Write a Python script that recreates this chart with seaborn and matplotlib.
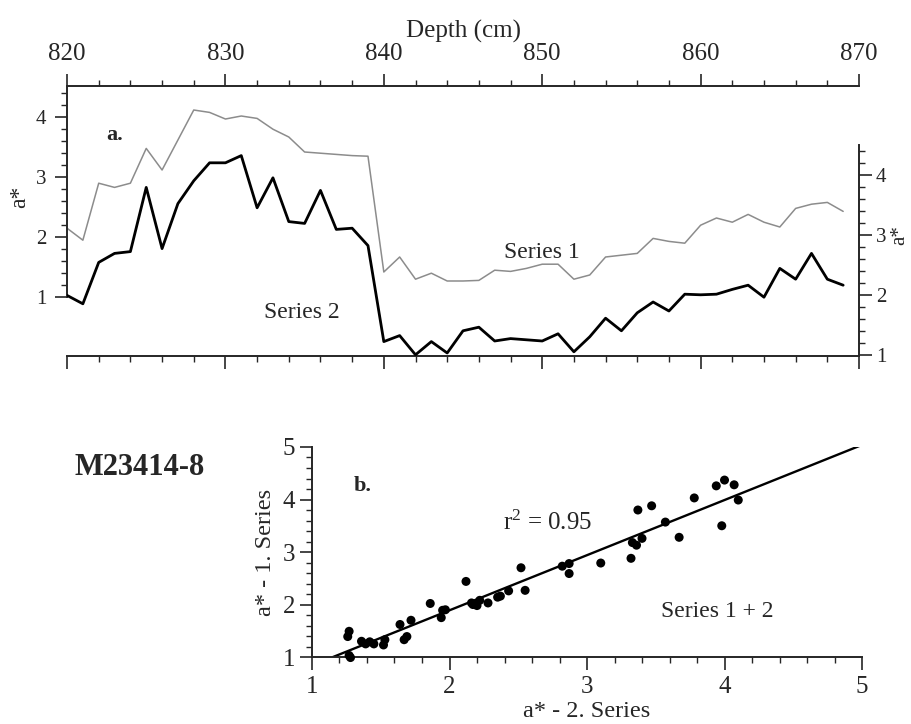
import matplotlib
matplotlib.use("Agg")
import matplotlib.pyplot as plt
import numpy as np
import pandas as pd
import seaborn as sns
from matplotlib.ticker import MultipleLocator

# Depth profile (cm) of a* for both series
depth = list(range(820, 870))
series1 = [2.15, 1.95, 2.90, 2.83, 2.90, 3.48, 3.12, 3.62, 4.12, 4.08,
           3.97, 4.02, 3.98, 3.80, 3.67, 3.42, 3.40, 3.38, 3.36, 3.35,
           1.42, 1.67, 1.30, 1.40, 1.27, 1.27, 1.28, 1.45, 1.43, 1.48,
           1.55, 1.55, 1.30, 1.37, 1.67, 1.70, 1.73, 1.98, 1.93, 1.90,
           2.20, 2.32, 2.25, 2.38, 2.25, 2.17, 2.48, 2.55, 2.58, 2.43]
series2 = [1.99, 1.85, 2.54, 2.69, 2.72, 3.79, 2.77, 3.52, 3.90, 4.20,
           4.20, 4.32, 3.45, 3.95, 3.22, 3.19, 3.74, 3.09, 3.11, 2.82,
           1.22, 1.32, 1.00, 1.22, 1.03, 1.40, 1.46, 1.23, 1.27, 1.25,
           1.23, 1.35, 1.05, 1.30, 1.61, 1.40, 1.70, 1.88, 1.73, 2.01,
           2.00, 2.01, 2.09, 2.16, 1.96, 2.44, 2.26, 2.69, 2.26, 2.16]

# cross-plot of the two series
scatter_x = [1.26, 1.27, 1.27, 1.28, 1.36, 1.39, 1.42, 1.45, 1.52, 1.53,
             1.64, 1.67, 1.69, 1.72, 1.86, 1.94, 1.95, 1.97, 2.12, 2.16,
             2.17, 2.20, 2.22, 2.28, 2.35, 2.37, 2.43, 2.52, 2.55, 2.82,
             2.87, 2.87, 3.10, 3.32, 3.33, 3.36, 3.40, 3.37, 3.47, 3.57,
             3.67, 3.78, 3.94, 4.00, 4.07, 4.10, 3.98]
scatter_y = [1.39, 1.49, 1.03, 0.99, 1.30, 1.25, 1.29, 1.25, 1.23, 1.33,
             1.62, 1.33, 1.39, 1.70, 2.02, 1.75, 1.89, 1.90, 2.44, 2.03,
             2.00, 1.98, 2.08, 2.03, 2.14, 2.16, 2.26, 2.70, 2.27, 2.73,
             2.78, 2.59, 2.79, 2.88, 3.18, 3.13, 3.26, 3.80, 3.88, 3.57,
             3.28, 4.03, 4.26, 4.37, 4.28, 3.99, 3.50]

# regression line as drawn
fit_slope = 1.05
fit_intercept = -0.21
fit_x = [1.15, 5.0]

sns.set_style("ticks")
plt.rcParams['font.family'] = ['Liberation Serif', 'DejaVu Serif']
plt.rcParams['mathtext.fontset'] = 'custom'
plt.rcParams['mathtext.rm'] = 'Liberation Serif'
plt.rcParams['mathtext.it'] = 'Liberation Serif:italic'

fig = plt.figure(figsize=(9.12, 7.24), dpi=100)

# ---- panel a: depth profiles
df = pd.DataFrame({'depth': depth, 's1': series1, 's2': series2})

ax1 = fig.add_axes([0.0735, 0.5083, 0.8684, 0.3729])
sns.lineplot(data=df, x='depth', y='s1', ax=ax1, color='#8c8c8c', lw=1.1)
ax2 = ax1.twinx()
sns.lineplot(data=df, x='depth', y='s2', ax=ax2, color='black', lw=2.0)

ax1.set_xlim(820, 870)
ax1.set_ylim(0.02, 4.52)
ax2.set_ylim(0.98, 5.48)

for sp in ax1.spines.values():
    sp.set_linewidth(1.4)
ax1.spines['right'].set_visible(False)
ax1.spines['left'].set_bounds(1, 4.52)
for side in ['left', 'top', 'bottom']:
    ax2.spines[side].set_visible(False)
ax2.spines['right'].set_linewidth(1.4)
ax2.spines['right'].set_bounds(0.98, 4.5)

ax1.xaxis.set_major_locator(MultipleLocator(10))
ax1.xaxis.set_minor_locator(MultipleLocator(2))
ax1.tick_params(axis='x', which='both', top=True, bottom=True, labeltop=True,
                labelbottom=False, direction='out', labelsize=18, pad=6)
ax1.tick_params(axis='x', which='major', length=9, width=1.2)
ax1.tick_params(axis='x', which='minor', length=4.5, width=1)
ax1.xaxis.set_label_position('top')
ax1.set_xlabel('Depth (cm)', fontsize=18, labelpad=4)

ax1.set_yticks([1, 2, 3, 4])
ax1.set_yticks(np.arange(1, 4.45, 0.2), minor=True)
ax1.tick_params(axis='y', which='both', direction='out', labelsize=15, pad=6)
ax1.tick_params(axis='y', which='major', length=9, width=1.2)
ax1.tick_params(axis='y', which='minor', length=4.5, width=1)
ax1.set_ylabel('a*', fontsize=17)
ax1.yaxis.set_label_coords(-0.047, 0.59)

ax2.set_yticks([1, 2, 3, 4])
ax2.set_yticks(np.arange(1, 4.45, 0.2), minor=True)
ax2.tick_params(axis='y', which='both', direction='out', labelsize=15, pad=3)
ax2.tick_params(axis='y', which='major', length=9, width=1.2)
ax2.tick_params(axis='y', which='minor', length=4.5, width=1)
ax2.set_ylabel('a*', fontsize=15)
ax2.yaxis.set_label_coords(1.040, 0.448)

ax1.text(823.0, 3.70, 'a.', fontsize=16, fontweight='bold', ha='center', va='center')
ax1.text(850.0, 1.75, 'Series 1', fontsize=17, ha='center', va='center')
ax1.text(834.8, 0.75, 'Series 2', fontsize=17, ha='center', va='center')

# ---- panel b: scatter of series 1 vs series 2
ax3 = fig.add_axes([0.3421, 0.0925, 0.6031, 0.2901])
sns.scatterplot(x=scatter_x, y=scatter_y, ax=ax3, color='black', s=42,
                edgecolor='none', clip_on=False, zorder=3)
fit_y = [fit_slope * v + fit_intercept for v in fit_x]
sns.lineplot(x=fit_x, y=fit_y, ax=ax3, color='black', lw=1.7)

ax3.set_xlim(1, 5)
ax3.set_ylim(1, 5)
ax3.spines['top'].set_visible(False)
ax3.spines['right'].set_visible(False)
for side in ['left', 'bottom']:
    ax3.spines[side].set_linewidth(1.4)
ax3.xaxis.set_major_locator(MultipleLocator(1))
ax3.xaxis.set_minor_locator(MultipleLocator(0.2))
ax3.yaxis.set_major_locator(MultipleLocator(1))
ax3.yaxis.set_minor_locator(MultipleLocator(0.2))
ax3.tick_params(which='both', direction='out', labelsize=18)
ax3.tick_params(axis='x', pad=5)
ax3.tick_params(axis='y', pad=3)
ax3.tick_params(which='major', length=9, width=1.2)
ax3.tick_params(which='minor', length=4.5, width=1)
ax3.set_xlabel('a* - 2. Series', fontsize=17.5, labelpad=2)
ax3.set_ylabel('a* - 1. Series', fontsize=17.5, labelpad=5)

ax3.text(1.37, 4.26, 'b.', fontsize=16, fontweight='bold', ha='center', va='center')
ax3.text(2.71, 3.55, r'r$^{2}$ = 0.95', fontsize=18, ha='center', va='center')
ax3.text(3.95, 1.86, 'Series 1 + 2', fontsize=17, ha='center', va='center')

fig.text(140 / 912, 1 - 467 / 724, 'M23414-8', fontsize=22, fontweight='bold',
         ha='center', va='center')

fig.savefig('out.png', dpi=100)
